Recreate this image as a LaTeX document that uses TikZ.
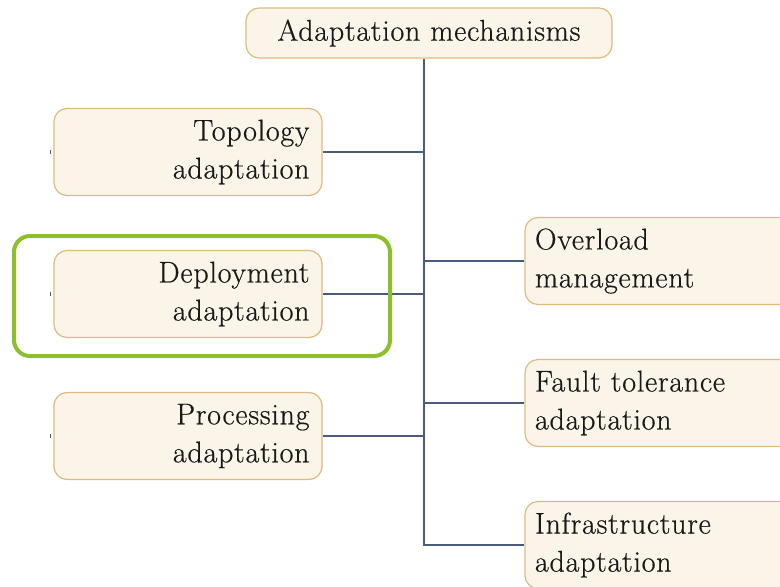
\documentclass[tikz,border=0pt]{standalone}
\usepackage{fontspec}
\setmainfont{Latin Modern Roman}[LetterSpace=2.5,FakeBold=0.5]
\definecolor{boxfill}{HTML}{FBF5E9}
\definecolor{boxedge}{HTML}{DDBA80}
\definecolor{wire}{HTML}{4B5B7A}
\definecolor{mark}{HTML}{8CBF2A}
\tikzset{
  item/.style={draw=boxedge, fill=boxfill, line width=1.2pt, rounded corners=13pt,
    minimum width=268pt, minimum height=87pt, inner xsep=0pt, text=black!90,
    font=\fontsize{30}{38}\selectfont},
  leftitem/.style={item, align=right, text width=243pt},
  rightitem/.style={item, align=left, text width=270pt, minimum width=290pt},
  link/.style={draw=wire, line width=2.2pt},
  highlight/.style={draw=mark, line width=4pt, rounded corners=16pt,
    minimum width=376pt, minimum height=120pt},
  speck/.style={draw=wire, line width=1pt}
}
\begin{document}
\begin{tikzpicture}[x=1pt,y=-1pt]
  \useasboundingbox (0,0) rectangle (780,587);
  \clip (0,0) rectangle (780,587);

  % root
  \node[item, minimum width=366pt, minimum height=50pt, text width=340pt, align=center]
    (root) at (429,33) {Adaptation mechanisms};

  % left branches
  \node[leftitem] (topo)   at (188,152) {Topology\\adaptation};
  \node[leftitem] (deploy) at (188,294) {Deployment\\adaptation};
  \node[leftitem] (proc)   at (188,436) {Processing\\adaptation};

  % right branches
  \node[rightitem] (over)  at (670,261) {Overload\\management};
  \node[rightitem] (fault) at (670,403) {Fault tolerance\\adaptation};
  \node[rightitem] (infra) at (670,545) {Infrastructure\\adaptation};

  % trunk and joints
  \coordinate (j1) at (424,152);
  \coordinate (j2) at (424,261);
  \coordinate (j3) at (424,294);
  \coordinate (j4) at (424,403);
  \coordinate (j5) at (424,436);
  \coordinate (j6) at (424,545);

  \draw[link] (root.south -| j6) -- (j6) -- (infra.west);
  \draw[link] (topo.east) -- (j1);
  \draw[link] (deploy.east) -- (j3);
  \draw[link] (proc.east) -- (j5);
  \draw[link] (j2) -- (over.west);
  \draw[link] (j4) -- (fault.west);

  % small marks at the left of the left branches
  \coordinate (s1) at (50,150);
  \coordinate (s2) at (50,292);
  \coordinate (s3) at (50,434);
  \draw[speck] (s1) -- ++(0,4);
  \draw[speck] (s2) -- ++(0,4);
  \draw[speck] (s3) -- ++(0,4);

  % highlight frame
  \node[highlight] (hl) at (202,296) {};
\end{tikzpicture}
\end{document}
